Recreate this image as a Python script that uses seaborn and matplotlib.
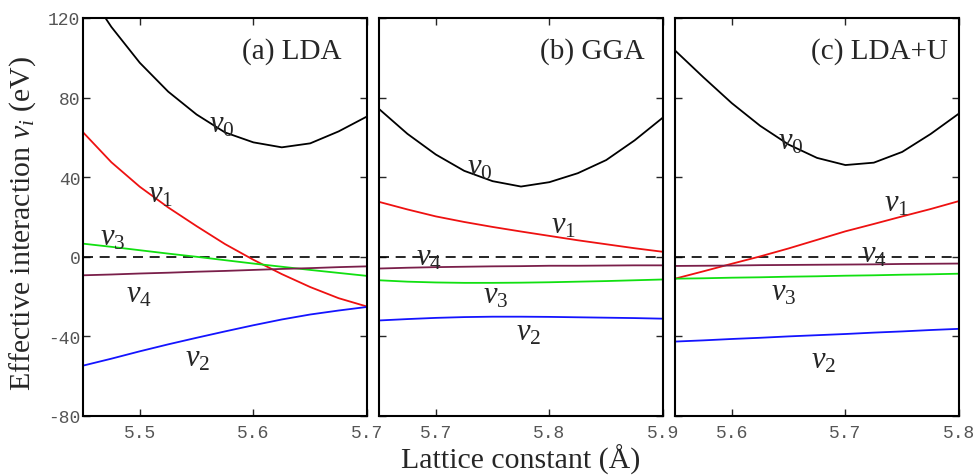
import numpy as np
import pandas as pd
import seaborn as sns
import matplotlib
matplotlib.use('Agg')
import matplotlib.pyplot as plt

# lattice constants (A) for each panel
x_lda = [5.45, 5.475, 5.5, 5.525, 5.55, 5.575, 5.6, 5.625, 5.65, 5.675, 5.7]
x_gga = [5.65, 5.675, 5.7, 5.725, 5.75, 5.775, 5.8, 5.825, 5.85, 5.875, 5.9]
x_ldau = [5.55, 5.575, 5.6, 5.625, 5.65, 5.675, 5.7, 5.725, 5.75, 5.775, 5.8]

# effective interactions (eV)
v0_lda = [137, 115.5, 97.5, 83, 71.5, 62.5, 57.5, 55, 57, 63, 70.5]
v1_lda = [62.6, 47.5, 35.2, 24.8, 15.4, 6.4, -1.5, -8.7, -15.2, -20.8, -25]
v2_lda = [-54.7, -51.2, -47.5, -44, -40.7, -37.5, -34.4, -31.5, -29, -27, -25.2]
v3_lda = [6.6, 5, 3.3, 1.6, 0, -1.7, -3.4, -5, -6.6, -8.1, -9.6]
v4_lda = [-9.3, -8.9, -8.4, -8.0, -7.5, -7.1, -6.6, -6.1, -5.7, -5.2, -4.8]

v0_gga = [74.3, 61.8, 51.4, 43.2, 38, 35.3, 37.5, 42, 48.6, 58.5, 70]
v1_gga = [27.6, 23.8, 20.3, 17.5, 15, 12.7, 10.5, 8.3, 6.3, 4.3, 2.5]
v2_gga = [-32, -31.3, -30.7, -30.3, -30.1, -30.1, -30.2, -30.4, -30.6, -30.8, -31.1]
v3_gga = [-11.8, -12.5, -12.9, -13.1, -13.1, -13, -12.8, -12.5, -12.2, -11.8, -11.4]
v4_gga = [-5.9, -5.5, -5.2, -5.0, -4.8, -4.7, -4.5, -4.5, -4.4, -4.3, -4.3]

v0_ldau = [103.7, 90.2, 77.2, 65.8, 56.4, 49.7, 46.1, 47.3, 52.7, 61.7, 72]
v1_ldau = [-11, -7.3, -3.5, 0.2, 4.2, 8.5, 12.8, 16.5, 20.3, 24, 28]
v2_ldau = [-42.6, -42, -41.3, -40.7, -40, -39.4, -38.8, -38.1, -37.5, -36.8, -36.2]
v3_ldau = [-11, -10.8, -10.5, -10.3, -10, -9.8, -9.5, -9.3, -9, -8.8, -8.5]
v4_ldau = [-4.6, -4.5, -4.4, -4.2, -4.1, -4.0, -3.9, -3.8, -3.6, -3.5, -3.4]

names = ['v0', 'v1', 'v2', 'v3', 'v4']
colors = {'v0': 'black', 'v1': '#ee1111', 'v2': '#1414ff', 'v3': '#11e011', 'v4': '#7a1f4a'}

panels = [
    ('(a) LDA', x_lda, [v0_lda, v1_lda, v2_lda, v3_lda, v4_lda], (5.45, 5.7), [5.5, 5.6, 5.7],
     {'v0': (5.572, 66.7), 'v1': (5.518, 31.8), 'v2': (5.551, -51), 'v3': (5.4765, 10), 'v4': (5.499, -18.5)},
     (5.634, 103.5)),
    ('(b) GGA', x_gga, [v0_gga, v1_gga, v2_gga, v3_gga, v4_gga], (5.65, 5.9), [5.7, 5.8, 5.9],
     {'v0': (5.7385, 45.3), 'v1': (5.812, 15.9), 'v2': (5.782, -37.7), 'v3': (5.753, -19.4), 'v4': (5.694, 0)},
     (5.838, 103.5)),
    ('(c) LDA+U', x_ldau, [v0_ldau, v1_ldau, v2_ldau, v3_ldau, v4_ldau], (5.55, 5.8), [5.6, 5.7, 5.8],
     {'v0': (5.652, 58.4), 'v1': (5.745, 26.8), 'v2': (5.681, -52), 'v3': (5.646, -17.7), 'v4': (5.7255, 1.6)},
     (5.73, 103.5)),
]

sns.set_style('ticks')
plt.rcParams['font.family'] = ['Liberation Serif', 'DejaVu Serif']
plt.rcParams['mathtext.fontset'] = 'custom'
plt.rcParams['mathtext.rm'] = 'Liberation Serif'
plt.rcParams['mathtext.it'] = 'Liberation Serif:italic'
plt.rcParams['axes.unicode_minus'] = False

fig = plt.figure(figsize=(9.75, 4.77), dpi=100)
lefts = [0.0851, 0.3887, 0.6923]
axes = [fig.add_axes([l, 0.1258, 0.2913, 0.8344]) for l in lefts]

for i, (ax, (title, xs, series, xlim, xticks, lab_pos, title_pos)) in enumerate(zip(axes, panels)):
    df = pd.concat([pd.DataFrame({'a': xs, 'v': vals, 'series': n})
                    for n, vals in zip(names, series)])
    ax.axhline(0, color='black', lw=1.2, ls=(0, (6, 4)), zorder=1)
    sns.lineplot(data=df, x='a', y='v', hue='series', palette=colors,
                 estimator=None, legend=False, linewidth=1.3, ax=ax)
    ax.set_xlim(*xlim)
    ax.set_ylim(-80, 120)
    ax.set_xticks(xticks)
    ax.set_yticks([-80, -40, 0, 40, 80, 120])
    ax.tick_params(direction='in', length=5, width=1, top=True, right=True,
                   labelsize=13, labelcolor='#555555', pad=6)
    for lbl in ax.get_xticklabels() + ax.get_yticklabels():
        lbl.set_family('Liberation Mono')
    if i > 0:
        ax.set_yticklabels([])
    else:
        ax.tick_params(axis='y', pad=2)
    for sp in ax.spines.values():
        sp.set_linewidth(1.5)
        sp.set_color('black')
    ax.set_xlabel('')
    ax.set_ylabel('')
    for n in names:
        px, py = lab_pos[n]
        ax.text(px, py, r'$\mathit{v}_{\mathit{%s}}$' % n[1], fontsize=22, ha='center', va='center')
    ax.text(title_pos[0], title_pos[1], title, fontsize=21, ha='center', va='center')

axes[0].set_ylabel(r'Effective interaction $\mathit{v}_{\mathit{i}}$ (eV)', fontsize=21.5)
axes[0].yaxis.set_label_coords(-0.16, 0.487)
axes[1].set_xlabel('Lattice constant (Å)', fontsize=21.5, labelpad=2)

fig.savefig('out.png', dpi=100)
